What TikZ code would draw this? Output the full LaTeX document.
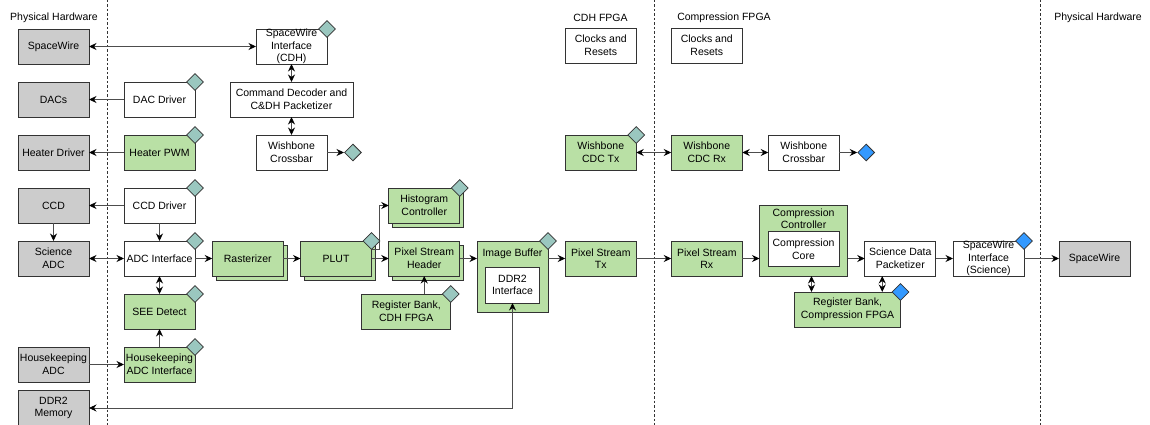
\documentclass[tikz,border=0pt]{standalone}
\usepackage{fontspec}
\setmainfont{Liberation Sans}
\usetikzlibrary{positioning}
\usetikzlibrary{shapes.geometric}
\usetikzlibrary{shadows}
\usetikzlibrary{arrows.meta}
\definecolor{hwgray}{HTML}{CCCCCC}
\definecolor{gwgreen}{HTML}{B9E0A5}
\definecolor{wbteal}{HTML}{9AC7BF}
\definecolor{cmpblue}{HTML}{3399FF}
\definecolor{edgegray}{HTML}{333333}
\definecolor{wiregray}{HTML}{4D4D4D}
\tikzstyle{blk} = [rectangle,draw=edgegray,fill=white,line width=0.8pt,minimum width=71pt,minimum height=35pt,inner sep=0pt,outer sep=0pt,align=center]
\tikzstyle{hw} = [blk,fill=hwgray]
\tikzstyle{gw} = [blk,fill=gwgreen]
\tikzstyle{gwstack} = [gw,copy shadow={shadow xshift=4pt,shadow yshift=-4pt,draw=edgegray,fill=gwgreen,line width=0.8pt}]
\tikzstyle{link} = [draw=wiregray,line width=0.8pt,->]
\tikzstyle{blink} = [link,<->]
\tikzstyle{domainline} = [draw=edgegray,line width=0.8pt,dash pattern=on 2.5pt off 2pt]

\begin{document}
\begin{tikzpicture}[x=1pt,y=-1pt,font=\fontsize{10.5}{12.6}\selectfont,
	node distance=18pt and 17.25pt,
	>={Stealth[length=7.5pt,width=7pt,inset=2.5pt,color=black]},
	wbport/.style={diamond,aspect=1,draw=edgegray,fill=wbteal,line width=0.8pt,minimum size=17pt,inner sep=0pt},
	cmpport/.style={wbport,fill=cmpblue}]
\useasboundingbox (0,0) rectangle (1150,425);

% Domain boundaries
\draw[domainline] (107,0) -- (107,425);
\draw[domainline] (654,0) -- (654,425);
\draw[domainline] (1040,0) -- (1040,425);

\node (phyl)    at (54,17.5)    {Physical Hardware};
\node (cdhfpga) at (600.5,17.5) {CDH FPGA};
\node (cmpfpga) at (724,17.5)   {Compression FPGA};
\node (phyr)    at (1098,17.5)  {Physical Hardware};

% Define nodes
\node[hw]                       (spwl)    at (53.5,46.5) {SpaceWire};
\node[hw, below = of spwl]      (dacs)    {DACs};
\node[hw, below = of dacs]      (heater)  {Heater Driver};
\node[hw, below = of heater]    (ccd)     {CCD};
\node[hw, below = of ccd]       (sciadc)  {Science\\ADC};

\node[blk, right = 35pt of dacs]   (dacdrv)  {DAC Driver};
\node[gw,  right = 35pt of heater] (heatpwm) {Heater PWM};
\node[blk, right = 35pt of ccd]    (ccddrv)  {CCD Driver};
\node[blk, right = 35pt of sciadc] (adcif)   {ADC Interface};
\node[gw,  below = of adcif]       (see)     {SEE Detect};
\node[gw,  below = of see]         (hkif)    {Housekeeping\\ADC Interface};
\node[hw,  left = 35pt of hkif]    (hkadc)   {Housekeeping\\ADC};
\node[hw,  below = 8.5pt of hkadc] (ddr2)    {DDR2\\Memory};

\node[blk, minimum width=123pt, right = 35pt of dacdrv] (cmddec) {Command Decoder and\\C\&DH Packetizer};
\node[blk, above = of cmddec]      (swcdh)   {SpaceWire\\Interface\\(CDH)};
\node[blk, below = of cmddec]      (xbarcdh) {Wishbone\\Crossbar};
\node[wbport, right = 17pt of xbarcdh] (wbcdh) {};

\node[gwstack, right = of adcif]   (rast)    {Rasterizer};
\node[gwstack, right = of rast]    (plut)    {PLUT};
\node[gwstack, right = of plut]    (psh)     {Pixel Stream\\Header};
\node[gwstack, above = of psh]     (hist)    {Histogram\\Controller};
\node[gw, minimum width=89pt, below = of psh, xshift=-18pt] (regcdh) {Register Bank,\\CDH FPGA};

\node[gw, minimum height=71pt, right = of psh.north east, anchor=north west] (imgbuf) {};
\node[inner sep=0pt, below = 8pt of imgbuf.north] (imgbuftxt) {Image Buffer};
\node[blk, minimum width=54pt, minimum height=36pt] (ddr2if) at ([yshift=-8.5pt]imgbuf.center) {DDR2\\Interface};

\node[gw, right = of imgbuf.north east, anchor=north west] (pst) {Pixel Stream\\Tx};
\node[gw, right = 35pt of pst]     (psr)     {Pixel Stream\\Rx};

\node[gw, minimum width=88pt, minimum height=71pt, right = of psr.south east, anchor=south west] (compctl) {};
\node[inner sep=0pt, align=center, below = 3.5pt of compctl.north] (compctltxt) {Compression\\Controller};
\node[blk] (compcore) at ([yshift=-8.5pt]compctl.center) {Compression\\Core};

\node[blk, right = of compctl.south east, anchor=south west] (pkt) {Science Data\\Packetizer};
\node[blk, right = of pkt]         (swsci)   {SpaceWire\\Interface\\(Science)};
\node[hw,  right = 35pt of swsci]  (spwr)    {SpaceWire};
\node[gw, minimum width=106pt, below = 16pt of compctl.south east] (regcmp) {Register Bank,\\Compression FPGA};

\node[gw,  above = 71pt of pst]    (wbtx)    {Wishbone\\CDC Tx};
\node[blk, above = 72pt of wbtx]   (clkcdh)  {Clocks and\\Resets};
\node[gw,  right = 35pt of wbtx]   (wbrx)    {Wishbone\\CDC Rx};
\node[blk, right = 35pt of clkcdh] (clkcmp)  {Clocks and\\Resets};
\node[blk, right = 26pt of wbrx]   (xbarcmp) {Wishbone\\Crossbar};
\node[cmpport, right = 18pt of xbarcmp] (wbcmp) {};

% Edges
\draw[blink] (spwl) -- (spwl -| swcdh.west);
\draw[blink] (swcdh) -- (cmddec);
\draw[blink] (cmddec) -- (xbarcdh);
\draw[link]  (xbarcdh) -- (wbcdh);
\draw[link]  (dacdrv) -- (dacs);
\draw[link]  (heatpwm) -- (heater);
\draw[link]  (ccddrv) -- (ccd);
\draw[link]  (ccd) -- (sciadc);
\draw[link]  (ccddrv) -- (adcif);
\draw[blink] (sciadc) -- (adcif);
\draw[blink] (adcif) -- (see);
\draw[link]  (hkif) -- (see);
\draw[link]  (hkadc) -- (hkif);
\draw[link]  (adcif) -- (rast);
\draw[link]  (rast) -- (plut);
\draw[link]  (plut) -- (psh);
\draw[link]  ([yshift=9.5pt]plut.east) -- ++(8,0) |- (hist);
\draw[link]  (regcdh.north -| psh.south) -- (psh.south);
\draw[link]  (psh.east) -- (psh.east -| imgbuf.west);
\draw[link]  (imgbuf.east |- pst.west) -- (pst.west);
\draw[link]  (pst) -- (psr);
\draw[link]  (psr.east) -- (psr.east -| compctl.west);
\draw[link]  (compctl.east |- pkt.west) -- (pkt.west);
\draw[link]  (pkt) -- (swsci);
\draw[link]  (swsci) -- (spwr);
\draw[blink] (ddr2if.south) |- (ddr2.east);
\draw[blink] (wbtx) -- (wbrx);
\draw[blink] (wbrx) -- (xbarcmp);
\draw[link]  (xbarcmp) -- (wbcmp);
\draw[blink] ([xshift=8pt]compctl.south) -- ([xshift=8pt]compctl.south |- regcmp.north);
\draw[blink] ([xshift=-18pt]pkt.south) -- ([xshift=-18pt]pkt.south |- regcmp.north);

% Bus ports
\foreach \n in {swcdh,dacdrv,heatpwm,ccddrv,adcif,see,hkif,plut,hist,regcdh,imgbuf,wbtx}
	\node[wbport] (\n-port) at (\n.north east) {};
\foreach \n in {swsci,regcmp}
	\node[cmpport] (\n-port) at (\n.north east) {};
\end{tikzpicture}
\end{document}
